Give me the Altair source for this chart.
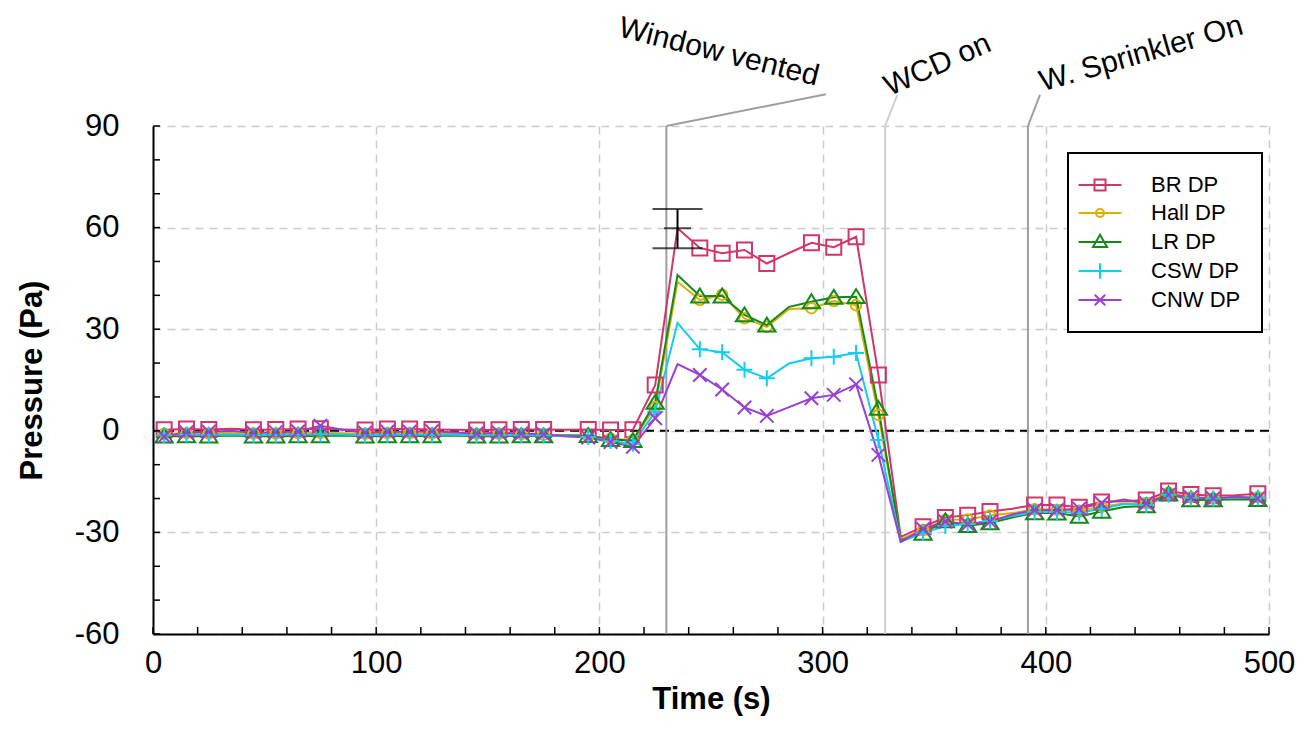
import altair as alt
import pandas as pd

# ---------------- data ----------------
times = list(range(5, 500, 10))
series_names = ["BR DP", "Hall DP", "LR DP", "CSW DP", "CNW DP"]
series_colors = ["#D1356B", "#DDAF00", "#14891A", "#12CDF2", "#9A3FD3"]

br_dp = [0.3, 0.5, 0.4, 0.6, 0.3, 0.4, 0.5, 0.6, 0.4, 0.2, 0.5, 0.5, 0.4, 0.3, 0.2, 0.3, 0.4, 0.4, 0.3,
         0.4, 0.2, 0.3, 13.5, 59.8, 54.0, 52.4, 53.4, 49.4, 52.5, 55.5, 54.2, 57.3, 16.5, -31.3, -28.3,
         -25.6, -24.9, -23.8, -23.0, -21.9, -21.9, -22.6, -21.0, -20.8, -20.4, -17.8, -18.8, -19.2, -19.0, -18.6]
hall_dp = [-0.9, -0.7, -0.8, -0.6, -0.8, -0.8, -0.7, -0.6, -0.7, -0.9, -0.7, -0.7, -0.8, -0.8, -0.9, -0.9, -1.0, -1.2, -1.5,
           -1.6, -2.3, -2.8, 7.0, 44.0, 38.6, 40.2, 33.2, 30.7, 36.0, 36.2, 38.3, 37.1, 4.7, -32.0, -29.3,
           -26.3, -26.2, -25.0, -24.3, -23.2, -23.3, -23.6, -22.4, -21.5, -21.3, -18.3, -19.6, -19.9, -19.6, -19.6]
lr_dp = [-1.6, -1.5, -1.6, -1.4, -1.6, -1.6, -1.5, -1.5, -1.4, -1.6, -1.5, -1.5, -1.5, -1.4, -1.6, -1.6, -1.5, -1.5, -1.3,
         -1.4, -2.6, -2.9, 8.4, 46.0, 39.8, 39.8, 34.2, 31.2, 36.6, 38.1, 39.4, 39.6, 6.6, -32.3, -30.3,
         -26.6, -28.0, -27.2, -25.6, -24.2, -24.3, -25.3, -23.8, -22.5, -22.2, -18.7, -20.4, -20.4, -20.2, -20.3]
csw_dp = [-1.3, -1.1, -1.2, -1.1, -1.3, -1.2, -1.1, -1.0, -1.1, -1.3, -1.2, -1.2, -1.2, -1.2, -1.3, -1.3, -1.3, -1.4, -1.6,
          -1.8, -3.0, -3.8, 5.6, 31.9, 24.1, 23.2, 18.0, 15.5, 19.9, 21.4, 21.9, 23.0, -2.7, -32.7, -30.2,
          -28.1, -27.5, -26.6, -25.2, -23.9, -24.0, -24.2, -23.0, -21.6, -21.9, -18.9, -19.8, -20.0, -19.6, -19.7]
cnw_dp = [-1.7, -0.5, -0.3, 0.0, -0.6, -0.4, -0.2, 1.5, 0.3, -0.6, -0.3, -0.3, -0.1, -0.5, -0.8, -0.6, -0.8, -1.0, -1.6,
          -2.0, -3.3, -4.7, 3.7, 19.7, 16.5, 12.2, 6.9, 4.4, 7.0, 9.6, 10.6, 13.7, -7.1, -32.8, -29.0,
          -26.8, -27.6, -26.8, -24.7, -23.4, -23.4, -23.0, -21.4, -20.3, -21.4, -18.9, -19.6, -20.0, -19.5, -20.0]
all_values = [br_dp, hall_dp, lr_dp, csw_dp, cnw_dp]

# error bar on BR DP at its peak
err_t = [235]
err_mean = [59.8]
err_lo = [53.9]
err_hi = [65.5]

# event annotations
event_names = ["Window vented", "WCD on", "W. Sprinkler On"]
event_times = [230, 328, 392]
event_lead_t = [301.5, 333.5, 397.4]
event_lead_y = [99.4, 99.2, 99.2]
event_label_t = [253.5, 351.5, 442.8]
event_label_y = [111.8, 108.0, 111.3]
event_angles = [14, 336, 344]
event_colors = ["#9e9e9e", "#cfcfcf", "#9e9e9e"]

x_labels = [0, 100, 200, 300, 400, 500]
y_labels = [-60, -30, 0, 30, 60, 90]
x_minor = list(range(0, 501, 20))
y_minor = list(range(-60, 91, 10))
zero_level = [0]

# marker glyphs (SVG paths in the unit box)
marker_paths = [
    "M-1,-1H1V1H-1Z",
    "M-0.75,0A0.75,0.75,0,1,0,0.75,0A0.75,0.75,0,1,0,-0.75,0Z",
    "M0,-1L1.15,0.85H-1.15Z",
    "M-1,0H1M0,-1V1",
    "M-0.9,-0.9L0.9,0.9M-0.9,0.9L0.9,-0.9",
]
marker_sizes = [225, 196, 225, 256, 225]
legend_paths = [
    "M-3.9,0H3.9M-1,-1H1V1H-1Z",
    "M-3.9,0H3.9M-0.73,0A0.73,0.73,0,1,0,0.73,0A0.73,0.73,0,1,0,-0.73,0Z",
    "M-3.9,0H3.9M0,-1.3L1.27,0.9H-1.27Z",
    "M-3.9,0H3.9M0,-1.4V1.4",
    "M-3.9,0H3.9M-0.95,-0.95L0.95,0.95M-0.95,0.95L0.95,-0.95",
]

rows = []
for name, vals in zip(series_names, all_values):
    for t, v in zip(times, vals):
        rows.append({"series": name, "t": t, "v": v, "marked": (t - 35) % 50 != 0})
df = pd.DataFrame(rows)

ev = pd.DataFrame({
    "name": event_names, "t": event_times, "t_end": event_lead_t,
    "y_lo": [-60] * 3, "y_hi": [90] * 3, "y_end": event_lead_y,
    "lt": event_label_t, "ly": event_label_y, "col": event_colors,
})
err = pd.DataFrame({"t": err_t, "m": err_mean, "lo": err_lo, "hi": err_hi})

FONT = "Liberation Sans"
xs = alt.Scale(domain=[0, 500], nice=False, zero=False)
ys = alt.Scale(domain=[-60, 90], nice=False, zero=False)

x_axis = alt.Axis(values=x_labels, title="Time (s)", grid=True, ticks=False, labelFlush=False,
                  labelPadding=14, titlePadding=6, labelExpr="toString(datum.value)")
y_axis = alt.Axis(values=y_labels, title="Pressure (Pa)", grid=True, ticks=False,
                  labelPadding=34, titlePadding=26, labelExpr="toString(datum.value)")


def X(field):
    return alt.X(field, scale=xs, axis=x_axis)


def Y(field):
    return alt.Y(field, scale=ys, axis=y_axis)


layers = []

# zero dashed line
zero_df = pd.DataFrame({"v": zero_level})
layers.append(
    alt.Chart(zero_df).mark_rule(color="black", strokeDash=[9, 6], strokeWidth=2).encode(
        y=Y("v:Q"),
    )
)

# event vertical lines and leaders
layers.append(
    alt.Chart(ev).mark_rule(strokeWidth=2).encode(
        x=X("t:Q"), y=Y("y_lo:Q"), y2="y_hi:Q",
        color=alt.Color("col:N", scale=None),
    )
)
layers.append(
    alt.Chart(ev).mark_rule(strokeWidth=2).encode(
        x=X("t:Q"), x2="t_end:Q", y=Y("y_hi:Q"), y2="y_end:Q",
        color=alt.Color("col:N", scale=None),
    )
)
for i, name in enumerate(event_names):
    layers.append(
        alt.Chart(ev).transform_filter(alt.datum.name == name).mark_text(
            angle=event_angles[i], fontSize=30, font=FONT, color="black",
            align="center", baseline="middle",
        ).encode(
            x=X("lt:Q"), y=Y("ly:Q"), text="name:N",
        )
    )

# series lines and markers
for i, name in enumerate(series_names):
    base = alt.Chart(df).transform_filter(alt.datum.series == name)
    layers.append(
        base.mark_line(color=series_colors[i], strokeWidth=2).encode(x=X("t:Q"), y=Y("v:Q"))
    )
for i, name in enumerate(series_names):
    base = alt.Chart(df).transform_filter(alt.datum.series == name).transform_filter(alt.datum.marked)
    layers.append(
        base.mark_point(shape=marker_paths[i], size=marker_sizes[i], filled=False,
                        color=series_colors[i], strokeWidth=2, opacity=1).encode(
            x=X("t:Q"), y=Y("v:Q"),
        )
    )

# error bar
layers.append(
    alt.Chart(err).mark_rule(color="black", strokeWidth=2).encode(
        x=X("t:Q"), y=Y("lo:Q"), y2="hi:Q",
    )
)
for col, width in [("lo", 50), ("hi", 50), ("m", 27)]:
    layers.append(
        alt.Chart(err).mark_tick(color="black", orient="horizontal", size=width, thickness=2).encode(
            x=X("t:Q"), y=Y(f"{col}:Q"),
        )
    )

# inward minor ticks
layers.append(
    alt.Chart(pd.DataFrame({"v": y_minor})).mark_rule(color="black", strokeWidth=1.5).encode(
        y=Y("v:Q"), x=alt.value(0), x2=alt.value(7),
    )
)
layers.append(
    alt.Chart(pd.DataFrame({"t": x_minor})).mark_rule(color="black", strokeWidth=1.5).encode(
        x=X("t:Q"), y=alt.value(508), y2=alt.value(501),
    )
)

# legend carrier (invisible points; legend shows line + marker glyphs)
leg_common = dict(
    orient="none", legendX=915, legendY=27, title=None,
    symbolSize=121, symbolStrokeWidth=2, symbolOpacity=1,
    labelFontSize=22, labelFont=FONT, labelColor="black",
    labelOffset=40, rowPadding=6, padding=21,
)
layers.append(
    alt.Chart(df).mark_point(opacity=0, filled=False).encode(
        x=X("t:Q"), y=Y("v:Q"),
        color=alt.Color("series:N", scale=alt.Scale(domain=series_names, range=series_colors),
                        legend=alt.Legend(**leg_common)),
        shape=alt.Shape("series:N", scale=alt.Scale(domain=series_names, range=legend_paths),
                        legend=alt.Legend(**leg_common)),
    )
)

chart = alt.layer(*layers).properties(
    width=1116, height=508,
    autosize=alt.AutoSizeParams(type="none"),
    padding={"left": 153, "top": 126, "right": 42, "bottom": 104},
    background="white",
).configure_view(stroke=None).configure_axis(
    domainColor="black", domainWidth=2,
    gridColor="#cccccc", gridDash=[8, 6], gridWidth=1.5,
    labelFont=FONT, labelFontSize=31, labelColor="black",
    titleFont=FONT, titleFontSize=31, titleFontWeight="bold", titleColor="black",
).configure_legend(
    strokeColor="black", strokeWidth=2, fillColor="white",
)

chart.save("out.html", embed_options={"renderer": "svg", "actions": False})
